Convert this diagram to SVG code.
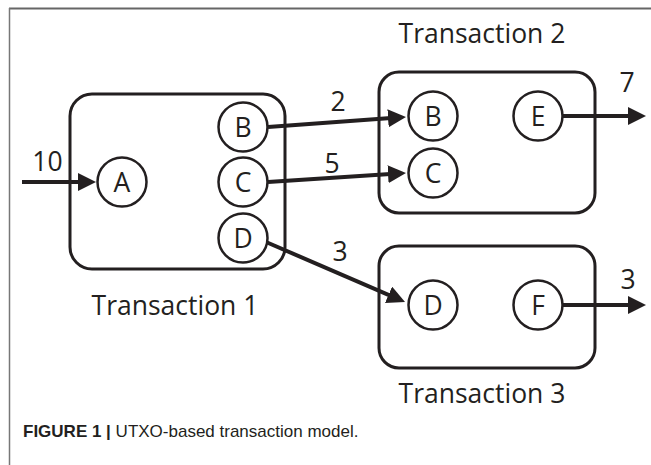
<svg xmlns="http://www.w3.org/2000/svg" width="651" height="465" viewBox="0 0 651 465">
<style>
.box{fill:none;stroke:#231f20;stroke-width:3}
.node{fill:#fff;stroke:#231f20;stroke-width:2.5}
.lbl{font-family:"Open Sans","DejaVu Sans",sans-serif;font-size:26.5px;fill:#231f20;text-anchor:middle}
.edge{stroke:#231f20;stroke-width:4;fill:none;marker-end:url(#ah)}
.cap{font-family:"Liberation Sans",Arial,sans-serif;font-size:17px;fill:#231f20}
</style>
<defs>
<marker id="ah" markerUnits="userSpaceOnUse" markerWidth="18" markerHeight="18" refX="10" refY="9" orient="auto">
<path d="M0,0 L18,9 L0,18 z" fill="#231f20"/>
</marker>
</defs>
<rect width="651" height="465" fill="#fff"/>
<g id="frame">
<line x1="9" y1="8.5" x2="651" y2="8.5" stroke="#666" stroke-width="2"/>
<line x1="9.5" y1="8" x2="9.5" y2="465" stroke="#777" stroke-width="1.5"/>
</g>
<g id="tx1">
<rect class="box" x="70" y="94" width="215" height="175" rx="22"/>
<text class="lbl" x="175" y="315">Transaction 1</text>
</g>
<g id="tx2">
<rect class="box" x="379" y="72" width="216" height="141" rx="20"/>
<text class="lbl" x="482" y="43">Transaction 2</text>
</g>
<g id="tx3">
<rect class="box" x="379" y="246" width="216" height="122" rx="20"/>
<text class="lbl" x="482" y="403">Transaction 3</text>
</g>
<g id="connectors">
<line class="edge" x1="22" y1="182" x2="88" y2="182"/>
<line class="edge" x1="268" y1="127" x2="398" y2="117.6"/>
<line class="edge" x1="268" y1="182" x2="398" y2="173.5"/>
<line class="edge" x1="266" y1="242" x2="397.7" y2="298.8"/>
<line class="edge" x1="563" y1="116" x2="638" y2="116"/>
<line class="edge" x1="563" y1="305" x2="638" y2="305"/>
<text class="lbl" x="47.5" y="171">10</text>
<text class="lbl" x="338" y="111">2</text>
<text class="lbl" x="332" y="173">5</text>
<text class="lbl" x="340" y="261">3</text>
<text class="lbl" x="627" y="92">7</text>
<text class="lbl" x="628" y="289">3</text>
</g>
<g id="tx1-A"><circle class="node" cx="122" cy="182" r="24.5"/><text class="lbl" x="122" y="191.5">A</text></g>
<g id="tx1-B"><circle class="node" cx="243" cy="127" r="24.5"/><text class="lbl" x="243" y="136.5">B</text></g>
<g id="tx1-C"><circle class="node" cx="243" cy="182" r="24.5"/><text class="lbl" x="243" y="191.5">C</text></g>
<g id="tx1-D"><circle class="node" cx="243" cy="238" r="24.5"/><text class="lbl" x="243" y="247.5">D</text></g>
<g id="tx2-B"><circle class="node" cx="433" cy="116" r="24.5"/><text class="lbl" x="433" y="125.5">B</text></g>
<g id="tx2-C"><circle class="node" cx="433" cy="173" r="24.5"/><text class="lbl" x="433" y="182.5">C</text></g>
<g id="tx2-E"><circle class="node" cx="538" cy="116" r="24.5"/><text class="lbl" x="538" y="125.5">E</text></g>
<g id="tx3-D"><circle class="node" cx="433" cy="305" r="24.5"/><text class="lbl" x="433" y="314.5">D</text></g>
<g id="tx3-F"><circle class="node" cx="538" cy="305" r="24.5"/><text class="lbl" x="538" y="314.5">F</text></g>
<g id="caption">
<text class="cap" x="23" y="437"><tspan font-weight="bold">FIGURE 1 | </tspan>UTXO-based transaction model.</text>
</g>
</svg>
